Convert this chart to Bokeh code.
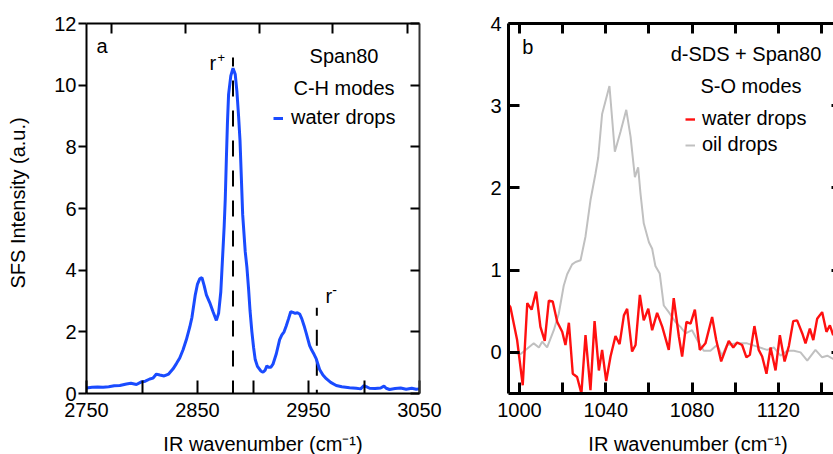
import math
from bokeh.plotting import figure
from bokeh.models import Range1d, LinearAxis, FixedTicker, Label, Legend, Grid
from bokeh.layouts import row, column
from bokeh.embed import file_html
from bokeh.resources import INLINE

FONT = "Liberation Sans"
BLUE = "#1a4bff"
RED = "#ff1010"
GRAY = "#c0c0c0"

# ---------------- data: panel a (Span80, C-H modes, water drops) ----------------
wn_a = [2750, 2755, 2760, 2765, 2770, 2775, 2780, 2786, 2790, 2795, 2799, 2803, 2807, 2810,
        2813, 2816, 2820, 2824, 2828, 2831, 2834, 2837, 2840, 2843, 2845, 2848, 2850, 2852,
        2854, 2856, 2858, 2861, 2864, 2867, 2869, 2871, 2872, 2873, 2874, 2875, 2876, 2877,
        2878, 2880, 2882, 2884, 2885.5, 2887, 2888.3, 2889.5, 2890.7, 2893, 2894.5, 2896,
        2897.3, 2899, 2900.5, 2902, 2904, 2907, 2909, 2911, 2912.5, 2914, 2916, 2918, 2921,
        2924, 2926, 2928, 2930, 2932, 2934, 2936, 2938, 2940, 2942, 2944, 2946, 2948, 2951,
        2953, 2955, 2957, 2960, 2963, 2966, 2970, 2975, 2980, 2987, 2993, 2997, 3000, 3002,
        3005, 3010, 3015, 3018, 3020, 3023, 3028, 3033, 3038, 3043, 3047, 3050]
sfs_a = [0.18, 0.2, 0.21, 0.2, 0.22, 0.25, 0.26, 0.31, 0.33, 0.29, 0.37, 0.4, 0.47, 0.5,
         0.63, 0.6, 0.57, 0.63, 0.8, 0.97, 1.15, 1.42, 1.75, 2.15, 2.47, 3.2, 3.55, 3.72,
         3.76, 3.5, 3.2, 2.95, 2.65, 2.37, 2.6, 3.3, 4.0, 4.7, 5.4, 6.3, 7.6, 8.8,
         9.7, 10.3, 10.55, 10.35, 9.8, 9.0, 8.2, 7.0, 5.8, 4.6, 4.1, 3.4,
         2.7, 2.0, 1.5, 1.1, 0.88, 0.73, 0.69, 0.76, 0.9, 0.85, 0.85, 0.95, 1.29,
         1.75, 1.9, 2.0, 2.2, 2.42, 2.65, 2.63, 2.6, 2.62, 2.58, 2.42, 2.2, 1.95, 1.55,
         1.4, 1.27, 1.12, 0.78, 0.6, 0.48, 0.36, 0.26, 0.22, 0.19, 0.17, 0.15, 0.26, 0.22,
         0.17, 0.16, 0.18, 0.24, 0.17, 0.13, 0.16, 0.18, 0.14, 0.17, 0.14, 0.15]

# ---------------- data: panel b (d-SDS + Span80, S-O modes) ----------------
wn_oil = [994, 996, 1000.5, 1002.8, 1006.6, 1009, 1010.5, 1012.8, 1015.9, 1018.2,
          1020.5, 1022.1, 1024.4, 1026, 1028.3, 1030.6, 1032.9, 1035.2, 1036.5, 1038.3,
          1040, 1041.7, 1044.2, 1046.8, 1049.5, 1051.5, 1053.5, 1055, 1056.1, 1057.6,
          1060, 1061.5, 1063, 1065, 1066.9, 1069.2, 1072.3, 1074.6, 1077, 1080,
          1082.4, 1085.4, 1088.5, 1091.6, 1093.9, 1096.2, 1100.9, 1105.5, 1110.2, 1114.8,
          1117.9, 1121, 1124.1, 1127.2, 1130.3, 1133.4, 1137.2, 1140.3, 1142.7, 1145.4, 1147]
oil = [0.0, 0.0, -0.02, 0.03, 0.11, 0.06, 0.13, 0.06, 0.27, 0.47,
       0.81, 0.95, 1.07, 1.1, 1.12, 1.41, 1.85, 2.17, 2.37, 2.9,
       3.07, 3.24, 2.44, 2.68, 2.95, 2.62, 2.13, 2.25, 1.93, 1.57,
       1.34, 1.26, 1.05, 0.96, 0.57, 0.49, 0.37, 0.31, 0.23, 0.27,
       0.15, 0.02, 0.02, 0.09, -0.04, 0.09, 0.11, 0.11, 0.07, 0.03,
       0.06, -0.04, 0.02, 0.02, 0.0, -0.1, 0.03, -0.06, -0.04, -0.08, -0.05]

wn_water = [994, 995.8, 998.9, 1001.5, 1003.6, 1005.6, 1007.7, 1009.7, 1011.7, 1013.6,
            1015.4, 1017.5, 1019.8, 1021.3, 1022.9, 1024.7, 1026.7, 1028.7, 1030.6, 1032.9,
            1034.8, 1036.8, 1038.3, 1040.2, 1042.2, 1044.5, 1046.4, 1048.4, 1049.9, 1052.2,
            1053.8, 1055.8, 1057.6, 1059.7, 1061.5, 1063.8, 1066.2, 1069.2, 1071.5, 1073.9,
            1075.4, 1077.4, 1079.3, 1081.3, 1083.6, 1086.2, 1089.3, 1091.2, 1093.5, 1097,
            1099.1, 1100.9, 1103.2, 1105.2, 1106.8, 1108.9, 1110.9, 1112.5, 1114.5, 1116.4,
            1118.7, 1120.7, 1122.9, 1124.9, 1126.9, 1128.7, 1131.1, 1132.6, 1134.6, 1136.2,
            1138, 1140.3, 1142.3, 1143.9, 1145.4, 1147]
water = [0.62, 0.55, 0.15, -0.4, 0.6, 0.52, 0.74, 0.31, 0.14, 0.63,
         0.62, 0.37, 0.25, 0.09, 0.36, -0.26, -0.3, -0.5, 0.21, -0.46,
         0.38, -0.22, 0.03, -0.35, -0.05, 0.2, 0.1, 0.45, 0.53, 0.01,
         0.09, 0.7, 0.39, 0.53, 0.27, 0.48, 0.31, 0.03, 0.66, 0.19,
         -0.05, 0.37, 0.35, 0.52, 0.03, 0.11, 0.43, 0.15, -0.11, 0.14,
         0.06, 0.12, 0.09, -0.06, -0.03, 0.32, 0.03, -0.05, -0.26, 0.06,
         -0.22, 0.21, -0.11, 0.08, 0.38, 0.39, 0.23, 0.11, 0.29, 0.15,
         0.41, 0.49, 0.25, 0.33, 0.21, 0.28]

# ticks
a_xticks = [2750, 2850, 2950, 3050]
a_xminor = [2800, 2900, 3000]
a_top_ticks = [2772.5, 2839, 2905.5, 2972, 3039]
a_yticks = [0, 2, 4, 6, 8, 10, 12]
b_xticks = [1000, 1040, 1080, 1120]
b_xminor = [1020, 1060, 1100, 1140]
b_top_ticks = [1000, 1020, 1040, 1060, 1080, 1100, 1120, 1140]
b_yticks = [0, 1, 2, 3, 4]

# band assignments (dashed markers)
r_plus_x, r_plus_top = 2882, 10.9
r_minus_x, r_minus_top = 2957.5, 2.78

NBSP = "\u00a0"
XTITLE = "IR wavenumber (cm\u207b\u00b9)"
YTITLE = "SFS Intensity (a.u.)"


def axis(ticks, minor=None, tin=0, tout=0, labels=True, lw=2, standoff=5,
         line_color="black", fs="20px", title=None, title_standoff=5):
    ax = LinearAxis(ticker=FixedTicker(ticks=ticks, minor_ticks=minor or []))
    ax.major_tick_in = tin
    ax.major_tick_out = tout
    ax.minor_tick_in = tin
    ax.minor_tick_out = tout
    ax.major_tick_line_width = lw
    ax.minor_tick_line_width = lw
    ax.major_tick_line_color = "black"
    ax.minor_tick_line_color = "black"
    ax.axis_line_width = lw
    ax.axis_line_color = line_color
    ax.major_label_standoff = standoff
    if labels:
        ax.major_label_text_font = FONT
        ax.major_label_text_font_size = fs
        ax.major_label_text_color = "black"
    else:
        ax.major_label_text_font_size = "0px"
        ax.major_label_text_alpha = 0
        ax.major_label_standoff = 0
    if title is not None:
        ax.axis_label = title
        ax.axis_label_text_font = FONT
        ax.axis_label_text_font_size = "20px"
        ax.axis_label_text_font_style = "normal"
        ax.axis_label_text_color = "black"
        ax.axis_label_standoff = title_standoff
    return ax


def base(width, height, xr, yr, left, right, top, bottom):
    p = figure(width=width, height=height, x_range=xr, y_range=yr,
               output_backend="svg", toolbar_location=None,
               x_axis_location=None, y_axis_location=None,
               min_border_left=left, min_border_right=right,
               min_border_top=top, min_border_bottom=bottom)
    p.outline_line_color = None
    for g in p.select(type=Grid):
        g.visible = False
    p.background_fill_color = "white"
    p.border_fill_color = "white"
    return p


def lab(p, x, y, text, size="20px", align="left", baseline="middle"):
    p.add_layout(Label(x=x, y=y, text=text, text_font=FONT, text_font_size=size,
                       text_align=align, text_baseline=baseline, text_color="black"))


# ---------------- panel a ----------------
pa = base(460, 425, Range1d(2750, 3050), Range1d(0, 12), 86, 41, 22, 32)
pa.add_layout(axis(a_xticks, a_xminor, tin=13, standoff=9), "below")
pa.add_layout(axis(a_top_ticks, tin=10, labels=False), "above")
pa.add_layout(axis(a_yticks, tout=8, standoff=2, title=NBSP * 2 + YTITLE,
                   title_standoff=22), "left")
pa.add_layout(axis(a_yticks, tin=9, labels=False, line_color="#333333"), "right")

pa.segment(x0=[r_plus_x], y0=[r_plus_top], x1=[r_plus_x], y1=[0], line_color="black",
           line_width=2, line_dash="16 14", line_dash_offset=7)
pa.segment(x0=[r_minus_x], y0=[r_minus_top], x1=[r_minus_x], y1=[0], line_color="black",
           line_width=2, line_dash="16 14", line_dash_offset=8)
la = pa.line(wn_a, sfs_a, line_color=BLUE, line_width=3)

leg_a = Legend(items=[("water drops", [la])], location=(187, 264),
               glyph_width=10, glyph_height=20, label_height=20, label_standoff=8,
               padding=0, margin=0, spacing=3, border_line_color=None,
               background_fill_alpha=0, label_text_font=FONT,
               label_text_font_size="20px", label_text_color="black")
pa.add_layout(leg_a)

lab(pa, 2759.0, 11.26, "a")
lab(pa, 2982.0, 10.93, "Span80", align="center")
lab(pa, 2982.0, 9.90, "C-H modes", align="center")
lab(pa, 2860.8, 10.71, "r")
lab(pa, 2868.0, 10.91, "+", size="13px")
lab(pa, 2965.3, 3.17, "r")
lab(pa, 2971.3, 3.36, "-", size="14px")

# ---------------- panel b ----------------
pb = base(373, 425, Range1d(994.9, 1145.57), Range1d(-0.5, 4), 48, 0, 23, 32)
pb.add_layout(axis(b_xticks, b_xminor, tin=11, lw=3, standoff=9), "below")
pb.add_layout(axis(b_top_ticks, tin=10, labels=False, lw=3), "above")
pb.add_layout(axis(b_yticks, tin=11, lw=3, standoff=7), "left")
rb = axis([0, 1, 2, 3], tin=2, labels=False, lw=3, line_color=None)
pb.add_layout(rb, "right")

lo = pb.line(wn_oil, oil, line_color=GRAY, line_width=2)
lw_ = pb.line(wn_water, water, line_color=RED, line_width=2.4)

leg_b = Legend(items=[("water drops", [lw_]), ("oil drops", [lo])], location=(177, 237),
               glyph_width=10, glyph_height=20, label_height=20, label_standoff=7,
               padding=0, margin=0, spacing=3, border_line_color=None,
               background_fill_alpha=0, label_text_font=FONT,
               label_text_font_size="20px", label_text_color="black")
pb.add_layout(leg_b)

lab(pb, 1001.25, 3.72, "b")
lab(pb, 1105.0, 3.623, "d-SDS + Span80", align="center")
lab(pb, 1107.3, 3.238, "S-O modes", align="center")

# ---------------- strip with the x-axis titles (pixel coordinates) ----------------
pt = base(833, 29, Range1d(0, 833), Range1d(0, 29), 0, 0, 0, 0)
lab(pt, 262.5, 11, XTITLE, align="center")
lab(pt, 687.5, 11, XTITLE, align="center")

layout = column(row(pa, pb), pt)
open("out.html", "w").write(file_html(layout, INLINE))
